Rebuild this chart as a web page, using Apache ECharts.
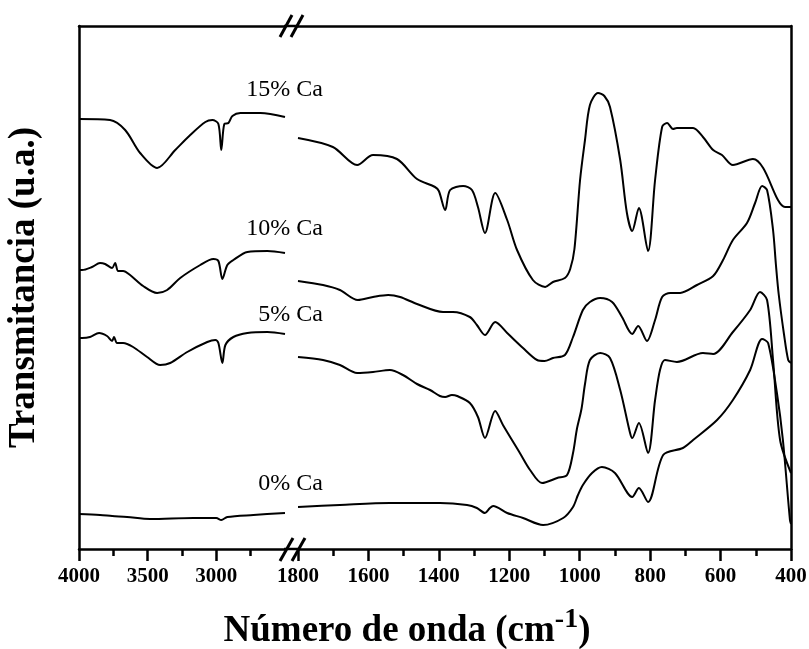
<!DOCTYPE html>
<html>
<head>
<meta charset="utf-8">
<script src="https://cdn.jsdelivr.net/npm/echarts@6/dist/echarts.min.js"></script>
<style>
html,body{margin:0;padding:0;background:#fff;}
#chart{width:809px;height:649px;}
</style>
</head>
<body>
<div id="chart"></div>
<script>
// Wavenumber (cm-1) vs transmittance (a.u., offset stacked)
var leftTicks = [3000, 3500, 4000];
var rightRange = [400, 1800];
var leftRange = [2500, 4000];
var seriesNames = ['15% Ca', '10% Ca', '5% Ca', '0% Ca'];

var ca15Left = [[4000,430],[3774,429],[3664,419],[3555,396],[3431,381],[3299,399],[3190,414],[3080,427],[3029,429],[2985,425],[2964,399],[2942,425],[2912,426],[2883,433],[2825,436],[2679,436],[2500,432]];
var ca15Right = [[1800,411],[1701,402],[1632,384],[1587,394],[1519,390],[1462,370],[1411,362],[1400,358],[1382,339],[1368,359],[1331,363],[1306,359],[1289,342],[1269,316],[1240,356],[1206,329],[1178,299],[1133,269],[1098,262],[1076,267],[1042,271],[1027,280],[1015,300],[999,369],[985,409],[971,444],[948,456],[930,453],[914,442],[885,389],[866,336],[851,318],[832,341],[806,298],[786,369],[766,422],[752,426],[735,420],[724,421],[678,421],[650,412],[621,399],[596,394],[565,384],[508,390],[479,381],[437,349],[417,342],[400,342]];

var ca10Left = [[4000,279],[3978,279],[3905,282],[3847,286],[3810,285],[3759,281],[3737,286],[3715,278],[3679,278],[3628,274],[3533,263],[3431,256],[3358,259],[3263,271],[3117,284],[3022,290],[2985,288],[2956,270],[2920,284],[2876,289],[2774,297],[2628,298],[2500,296]];
var ca10Right = [[1800,268],[1729,264],[1681,259],[1630,249],[1587,252],[1544,254],[1510,252],[1462,245],[1388,237],[1360,237],[1312,232],[1292,224],[1269,214],[1240,227],[1206,216],[1161,201],[1121,189],[1100,188],[1076,191],[1042,194],[1019,212],[991,239],[971,247],[942,251],[908,247],[880,232],[851,215],[834,223],[809,208],[786,229],[766,252],[743,256],[715,256],[667,264],[621,273],[593,289],[565,309],[525,326],[502,346],[482,363],[468,359],[451,319],[443,285],[435,255],[420,215],[408,189],[400,186]];

var ca5Left = [[4000,211],[3978,211],[3920,212],[3854,216],[3796,213],[3759,208],[3745,212],[3723,206],[3679,206],[3606,202],[3504,192],[3409,184],[3336,186],[3212,197],[3066,207],[3007,209],[2985,206],[2956,186],[2934,204],[2876,212],[2774,216],[2628,217],[2500,215]];
var ca5Right = [[1800,192],[1729,189],[1681,184],[1632,176],[1587,177],[1539,179],[1502,174],[1462,165],[1425,159],[1397,153],[1382,152],[1363,154],[1348,153],[1312,146],[1289,132],[1269,111],[1240,138],[1218,124],[1170,96],[1141,79],[1107,66],[1064,71],[1036,74],[1019,96],[1008,120],[995,140],[985,165],[971,189],[942,196],[914,191],[885,159],[857,116],[851,111],[832,126],[806,96],[786,149],[772,179],[758,189],[724,187],[650,196],[621,195],[565,217],[516,239],[488,257],[468,249],[451,189],[431,109],[400,76]];

var ca0Left = [[4000,35],[3847,34],[3759,33],[3650,32],[3482,30],[3168,31],[3000,31],[2964,29],[2920,32],[2730,34],[2500,36]];
var ca0Right = [[1800,42],[1681,44],[1539,46],[1397,46],[1320,44],[1292,41],[1269,36],[1255,41],[1246,43],[1206,36],[1161,31],[1104,24],[1047,31],[1019,42],[1005,54],[991,64],[965,76],[937,82],[900,76],[851,52],[832,61],[806,47],[763,94],[707,101],[678,109],[610,129],[565,149],[516,179],[482,210],[465,206],[440,156],[423,109],[403,29],[400,25]];

var FONT = "'Liberation Serif','Times New Roman',serif";
var chart = echarts.init(document.getElementById('chart'), null, {renderer: 'canvas'});

function lineSeries(data, idx, name) {
  return {
    type: 'line', name: name, xAxisIndex: idx, yAxisIndex: idx, data: data,
    showSymbol: false, smooth: 0.3, animation: false,
    lineStyle: {color: '#000', width: 2}, silent: true
  };
}

var axisLineStyle = {show: true, lineStyle: {color: '#000', width: 2.5}};
function labelStyle(extra) {
  return Object.assign({fontFamily: FONT, fontWeight: 'bold', fontSize: 21, color: '#000', margin: 17,
    formatter: function(v){ return String(v); }}, extra || {});
}

var option = {
  backgroundColor: '#fff',
  animation: false,
  grid: [
    {left: 79, top: 26, width: 206, height: 523, containLabel: false, outerBoundsMode: 'none'},
    {left: 298, top: 26, width: 493, height: 523, containLabel: false, outerBoundsMode: 'none'}
  ],
  xAxis: [
    {gridIndex: 0, type: 'value', inverse: true, min: leftRange[0], max: leftRange[1], interval: 500,
      position: 'bottom', axisLine: axisLineStyle,
      axisTick: {show: true, inside: false, length: 12, lineStyle: {color: '#000', width: 2.5}, customValues: leftTicks},
      minorTick: {show: true, splitNumber: 2, length: 7, lineStyle: {color: '#000', width: 2.5}},
      axisLabel: labelStyle({customValues: leftTicks, formatter: function(v){return v === 2500 ? '' : String(v);}}),
      splitLine: {show: false}, minorSplitLine: {show: false}},
    {gridIndex: 1, type: 'value', inverse: true, min: rightRange[0], max: rightRange[1], interval: 200,
      position: 'bottom', axisLine: axisLineStyle,
      axisTick: {show: true, inside: false, length: 12, lineStyle: {color: '#000', width: 2.5}},
      minorTick: {show: true, splitNumber: 2, length: 7, lineStyle: {color: '#000', width: 2.5}},
      axisLabel: labelStyle(),
      splitLine: {show: false}, minorSplitLine: {show: false}},
    {gridIndex: 0, type: 'value', inverse: true, min: leftRange[0], max: leftRange[1], position: 'top',
      axisLine: axisLineStyle, axisTick: {show: false}, axisLabel: {show: false}, splitLine: {show: false}},
    {gridIndex: 1, type: 'value', inverse: true, min: rightRange[0], max: rightRange[1], position: 'top',
      axisLine: axisLineStyle, axisTick: {show: false}, axisLabel: {show: false}, splitLine: {show: false}}
  ],
  yAxis: [
    {gridIndex: 0, type: 'value', min: 0, max: 523, position: 'left',
      axisLine: axisLineStyle, axisTick: {show: false}, axisLabel: {show: false}, splitLine: {show: false},
      name: 'Transmitancia (u.a.)', nameLocation: 'middle', nameGap: 36, nameRotate: 90,
      nameTextStyle: {fontFamily: FONT, fontWeight: 'bold', fontSize: 37, color: '#000'}},
    {gridIndex: 1, type: 'value', min: 0, max: 523, position: 'right',
      axisLine: axisLineStyle, axisTick: {show: false}, axisLabel: {show: false}, splitLine: {show: false}}
  ],
  series: [
    lineSeries(ca15Left, 0, seriesNames[0]), lineSeries(ca15Right, 1, seriesNames[0]),
    lineSeries(ca10Left, 0, seriesNames[1]), lineSeries(ca10Right, 1, seriesNames[1]),
    lineSeries(ca5Left, 0, seriesNames[2]), lineSeries(ca5Right, 1, seriesNames[2]),
    lineSeries(ca0Left, 0, seriesNames[3]), lineSeries(ca0Right, 1, seriesNames[3])
  ],
  graphic: [
    {type: 'line', shape: {x1: 284, y1: 26, x2: 299, y2: 26}, style: {stroke: '#000', lineWidth: 2.5}},
    {type: 'line', shape: {x1: 284, y1: 549, x2: 299, y2: 549}, style: {stroke: '#000', lineWidth: 2.5}},
    {type: 'line', shape: {x1: 280, y1: 37, x2: 292, y2: 15}, style: {stroke: '#000', lineWidth: 3}},
    {type: 'line', shape: {x1: 291, y1: 37, x2: 303, y2: 15}, style: {stroke: '#000', lineWidth: 3}},
    {type: 'line', shape: {x1: 280, y1: 561, x2: 293, y2: 538}, style: {stroke: '#000', lineWidth: 3}},
    {type: 'line', shape: {x1: 292, y1: 561, x2: 305, y2: 538}, style: {stroke: '#000', lineWidth: 3}},
    {type: 'text', style: {text: seriesNames[0], x: 323, y: 90, textAlign: 'right', textVerticalAlign: 'middle', font: '24px ' + FONT, fill: '#000'}},
    {type: 'text', style: {text: seriesNames[1], x: 323, y: 229, textAlign: 'right', textVerticalAlign: 'middle', font: '24px ' + FONT, fill: '#000'}},
    {type: 'text', style: {text: seriesNames[2], x: 323, y: 315, textAlign: 'right', textVerticalAlign: 'middle', font: '24px ' + FONT, fill: '#000'}},
    {type: 'text', style: {text: seriesNames[3], x: 323, y: 484, textAlign: 'right', textVerticalAlign: 'middle', font: '24px ' + FONT, fill: '#000'}},
    {type: 'text', style: {
      text: '{a|Número de onda (cm}{s|-1}{a|)}', x: 407, y: 628, textAlign: 'center', textVerticalAlign: 'middle',
      rich: {
        a: {fontFamily: FONT, fontWeight: 'bold', fontSize: 37, fill: '#000', lineHeight: 44, verticalAlign: 'bottom'},
        s: {fontFamily: FONT, fontWeight: 'bold', fontSize: 28, fill: '#000', lineHeight: 30, verticalAlign: 'top'}
      }}}
  ]
};
chart.setOption(option);
</script>
</body>
</html>
